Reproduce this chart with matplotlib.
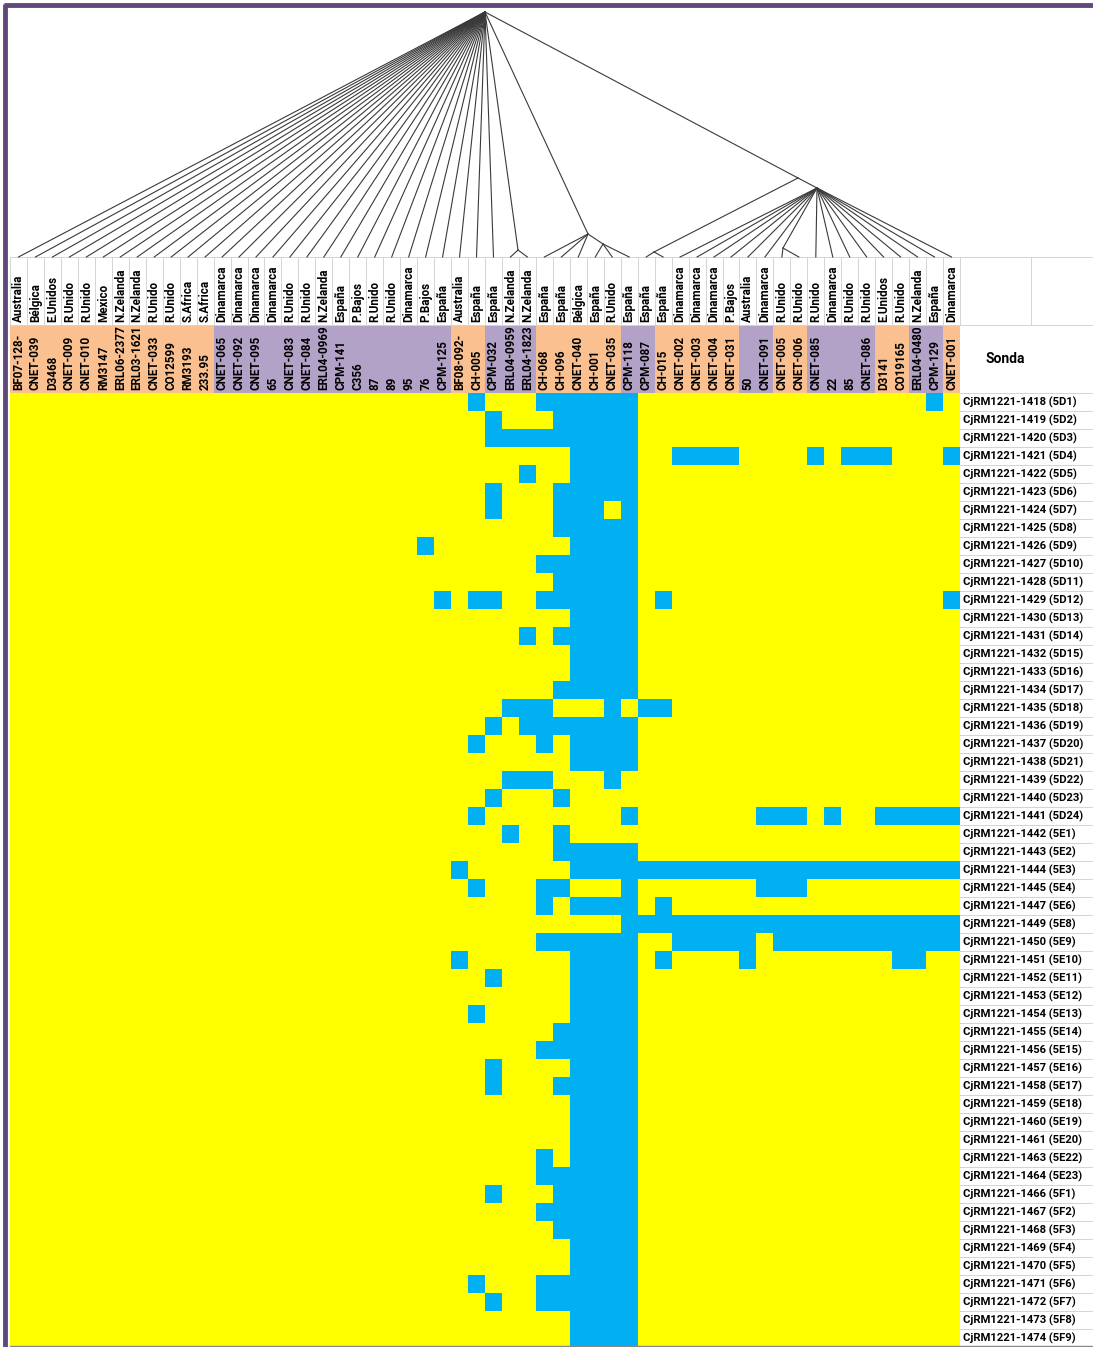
import matplotlib.pyplot as plt
from matplotlib.colors import ListedColormap
import numpy as np

plt.rcParams['font.family'] = ['Roboto', 'DejaVu Sans']

# paises y cepas (columnas)
paises = ['Australia', 'Bélgica', 'E.Unidos', 'R.Unido', 'R.Unido', 'Mexico', 'N.Zelanda', 'N.Zelanda',
          'R.Unido', 'R.Unido', 'S.Africa', 'S.Africa', 'Dinamarca', 'Dinamarca', 'Dinamarca', 'Dinamarca',
          'R.Unido', 'R.Unido', 'N.Zelanda', 'España', 'P.Bajos', 'R.Unido', 'R.Unido', 'Dinamarca',
          'P.Bajos', 'España', 'Australia', 'España', 'España', 'N.Zelanda', 'N.Zelanda', 'España',
          'España', 'Bélgica', 'España', 'R.Unido', 'España', 'España', 'España', 'Dinamarca',
          'Dinamarca', 'Dinamarca', 'P.Bajos', 'Australia', 'Dinamarca', 'R.Unido', 'R.Unido', 'R.Unido',
          'Dinamarca', 'R.Unido', 'R.Unido', 'E.Unidos', 'R.Unido', 'N.Zelanda', 'España', 'Dinamarca']
cepas = ['BF07-128-', 'CNET-039', 'D3468', 'CNET-009', 'CNET-010', 'RM3147', 'ERL06-2377', 'ERL03-1621',
         'CNET-033', 'CO12599', 'RM3193', '233.95', 'CNET-065', 'CNET-092', 'CNET-095', '65',
         'CNET-083', 'CNET-084', 'ERL04-0969', 'CPM-141', 'C356', '87', '89', '95',
         '76', 'CPM-125', 'BF08-092-', 'CH-005', 'CPM-032', 'ERL04-0959', 'ERL04-1823', 'CH-068',
         'CH-096', 'CNET-040', 'CH-001', 'CNET-035', 'CPM-118', 'CPM-087', 'CH-015', 'CNET-002',
         'CNET-003', 'CNET-004', 'CNET-031', '50', 'CNET-091', 'CNET-005', 'CNET-006', 'CNET-085',
         '22', '85', 'CNET-086', 'D3141', 'CO19165', 'ERL04-0480', 'CPM-129', 'CNET-001']
# O = naranja, P = morado
grupo = 'OOOOOOOOOOOOPPPPPPPPPPPPPPOOPPPOOOOOPPOOOOOPPOOPPPPOOPPO'

sondas = ['1418 (5D1)', '1419 (5D2)', '1420 (5D3)', '1421 (5D4)', '1422 (5D5)', '1423 (5D6)',
          '1424 (5D7)', '1425 (5D8)', '1426 (5D9)', '1427 (5D10)', '1428 (5D11)', '1429 (5D12)',
          '1430 (5D13)', '1431 (5D14)', '1432 (5D15)', '1433 (5D16)', '1434 (5D17)', '1435 (5D18)',
          '1436 (5D19)', '1437 (5D20)', '1438 (5D21)', '1439 (5D22)', '1440 (5D23)', '1441 (5D24)',
          '1442 (5E1)', '1443 (5E2)', '1444 (5E3)', '1445 (5E4)', '1447 (5E6)', '1449 (5E8)',
          '1450 (5E9)', '1451 (5E10)', '1452 (5E11)', '1453 (5E12)', '1454 (5E13)', '1455 (5E14)',
          '1456 (5E15)', '1457 (5E16)', '1458 (5E17)', '1459 (5E18)', '1460 (5E19)', '1461 (5E20)',
          '1463 (5E22)', '1464 (5E23)', '1466 (5F1)', '1467 (5F2)', '1468 (5F3)', '1469 (5F4)',
          '1470 (5F5)', '1471 (5F6)', '1472 (5F7)', '1473 (5F8)', '1474 (5F9)']

# columnas con hibridacion negativa (azul) por sonda
azul = ['27,31-36,54', '28,32-36', '28-36', '33-36,39-42,47,49-51,55', '30,33-36', '28,32-36',
        '28,32-34,36', '32-36', '24,33-36', '31-36', '32-36', '25,27-28,31-36,38,55',
        '33-36', '30,32-36', '33-36', '33-36', '32-36', '29-31,35,37-38',
        '28,30-36', '27,31,33-36', '33-36', '29-31,35', '28,32', '27,36,44-46,48,51-55',
        '29,32', '32-36', '26,33-55', '27,31-32,36,44-46', '31,33-36,38', '36-55',
        '31-36,39-43,45-55', '26,33-36,38,43,52-53', '28,33-36', '33-36', '27,33-36', '32-36',
        '31-36', '28,33-36', '28,32-36', '33-36', '33-36', '33-36',
        '31,33-36', '31-36', '28,32-36', '31-36', '32-36', '33-36',
        '33-36', '27,31-36', '28,31-36', '33-36', '33-36']

ncol = len(cepas)
nfil = len(sondas)
mat = np.zeros((nfil, ncol))
for i, s in enumerate(azul):
    for parte in s.split(','):
        if '-' in parte:
            a, b = parte.split('-')
            mat[i, int(a):int(b) + 1] = 1
        else:
            mat[i, int(parte)] = 1

# geometria en pixeles
x0, x1 = 10, 960
yp, yc, yg, yb = 257, 325, 393, 1347
w = (x1 - x0) / ncol
h = (yb - yg) / nfil
xc = [x0 + w * (i + 0.5) for i in range(ncol)]

fig = plt.figure(figsize=(10.93, 13.47), dpi=100)
ax = fig.add_axes([0, 0, 1, 1])
ax.set_xlim(0, 1093)
ax.set_ylim(1347, 0)
ax.axis('off')

# matriz
ax.imshow(mat, cmap=ListedColormap(['#FFFF00', '#00B0F0']), vmin=0, vmax=1,
          extent=(x0, x1, yb, yg), aspect='auto', interpolation='nearest')

# fila de cepas coloreada
g = np.array([[0 if c == 'O' else 1 for c in grupo]])
ax.imshow(g, cmap=ListedColormap(['#FAC090', '#B3A2C7']), vmin=0, vmax=1,
          extent=(x0, x1, yg, yc), aspect='auto', interpolation='nearest')

# rejilla de la cabecera
gris = '#D4D4D4'
for i in range(ncol + 1):
    ax.plot([x0 + w * i] * 2, [yp, yc], color=gris, lw=0.7)
ax.plot([x0, 1093], [yp, yp], color=gris, lw=0.7)
ax.plot([x0, 1093], [yc, yc], color=gris, lw=0.7)
ax.plot([1031, 1031], [yp, yc], color=gris, lw=0.7)
ax.plot([1093, 1093], [yp, yb], color=gris, lw=0.7)
for j in range(nfil + 1):
    ax.plot([x1, 1093], [yg + h * j] * 2, color=gris, lw=0.7)

for i in range(ncol):
    ax.text(xc[i], yc - 3, paises[i], rotation=90, ha='center', va='bottom',
            fontsize=8.4, fontweight='bold')
    ax.text(xc[i], yg - 3, cepas[i], rotation=90, ha='center', va='bottom',
            fontsize=8.4, fontweight='bold')

ax.text(1005, (yc + yg) / 2, 'Sonda', ha='center', va='center', fontsize=10, fontweight='bold')
for j in range(nfil):
    ax.text(963, yg + h * (j + 0.5), 'CjRM1221-' + sondas[j], ha='left', va='center',
            fontsize=8.1, fontweight='bold')

# dendrograma
nodos = {'R': (485, 12), 'D': (518, 250), 'A': (588, 234), 'B': (603, 244),
         'C': (798, 178), 'E': (654, 252), 'N2': (817, 188), 'F': (783, 248)}
hijos = {'R': list(range(0, 29)) + ['D', 'A', 'C'],
         'D': [29, 30],
         'A': [31, 32, 33, 'B'],
         'B': [34, 35, 36],
         'C': ['E', 'N2'],
         'E': [37, 38],
         'N2': [39, 40, 41, 42, 43, 44, 'F'] + list(range(47, 56)),
         'F': [45, 46]}
for p, hs in hijos.items():
    px, py = nodos[p]
    for k in hs:
        if isinstance(k, str):
            cx, cy = nodos[k]
        else:
            cx, cy = xc[k], yp
        ax.plot([px, cx], [py, cy], color='#3a3a3a', lw=0.8)

# marco morado
ax.plot([4, 1093], [5, 5], color='#5F497A', lw=3.5, solid_capstyle='butt')
ax.plot([5, 5], [4, 1347], color='#5F497A', lw=3.5, solid_capstyle='butt')
ax.plot([x0, 1093], [yb - 1, yb - 1], color='#888888', lw=1)

fig.savefig('out.png', dpi=100)
